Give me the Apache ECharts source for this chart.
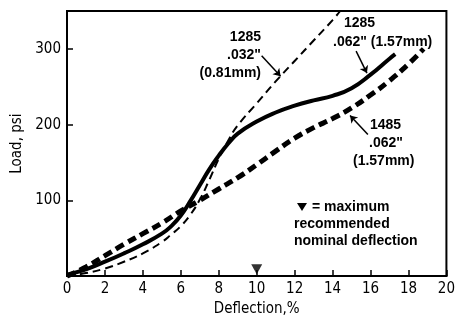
<!DOCTYPE html>
<html><head><meta charset="utf-8">
<script src="https://cdn.jsdelivr.net/npm/echarts@6/dist/echarts.min.js"></script>
<style>html,body{margin:0;padding:0;background:#fff}#c{width:458px;height:322px}</style>
</head><body><div id="c"></div>
<script>
// Deflection (%) -> Load (psi)
const solid1285_062 = [[0,2],[1,9],[2,19],[3,30],[4,42],[5,56],[5.5,66],[6,80],[6.5,99],[7,120],[7.5,141],[8,159],[8.5,175],[9,188],[10,204],[11,216],[12,225],[13,232],[14,238],[15,248],[16,266],[17,287],[17.3,293]];
const thin1285_032 = [[0,0],[1,4],[2,10],[3,19],[4,30],[5,45],[5.5,55],[6,66],[6.5,81],[7,101],[7.5,127],[8,155],[8.5,179],[9,199],[10,228],[11,257],[12,284],[13,311],[14,338],[14.4,350]];
const thick1485_062 = [[0,0],[1,12],[2,27],[3,42],[4,56],[5,70],[6,86],[7,100],[8,115],[9,130],[10,147],[11,165],[12,182],[13,196],[14,208],[15,222],[16,239],[17,258],[18,280],[18.8,300]];
const markerPoint = [[10,9]];
const xTicks = [0,2,4,6,8,10,12,14,16,18,20];
const yTicks = [100,200,300];
const arrows = [
  [[10.26,291],[11.26,264]],
  [[15.24,297],[15.81,268]],
  [[15.86,187],[14.92,212]]
];

const tickFont = '"Liberation Sans Narrow","DejaVu Sans Condensed","Arial Narrow",sans-serif';
const boldFont = '"Liberation Sans",Arial,Helvetica,sans-serif';
const chart = echarts.init(document.getElementById('c'));
function txt(x, y, s, align) {
  return {type:'text', x:x, y:y, style:{text:s, font:'bold 14px ' + boldFont, fill:'#000',
    textAlign: align || 'left', textVerticalAlign:'top', verticalAlign:'top'}};
}
chart.setOption({
  animation:false,
  grid:{left:67,right:9,top:11,bottom:39,show:true,borderColor:'#000',borderWidth:2,backgroundColor:'transparent'},
  xAxis:{type:'value',min:0,max:20,interval:2,
    name:'Deflection,%',nameLocation:'middle',nameGap:23,
    nameTextStyle:{fontFamily:tickFont,fontSize:15,color:'#000'},
    axisLine:{lineStyle:{color:'#000',width:2}},
    axisTick:{inside:true,length:6,lineStyle:{color:'#000',width:1.5}},
    axisLabel:{fontFamily:tickFont,fontSize:15,color:'#000',margin:6,
      formatter:v=>xTicks.includes(v)?String(v):''},
    splitLine:{show:false}},
  yAxis:{type:'value',min:0,max:350,interval:100,
    name:'Load, psi',nameLocation:'middle',nameGap:34,
    nameTextStyle:{fontFamily:tickFont,fontSize:15,color:'#000'},
    axisLine:{lineStyle:{color:'#000',width:2}},
    axisTick:{inside:true,length:6,lineStyle:{color:'#000',width:1.5}},
    axisLabel:{fontFamily:tickFont,fontSize:15,color:'#000',margin:6,
      formatter:v=>yTicks.includes(v)?String(v):''},
    splitLine:{show:false}},
  series:[
    {type:'line',data:thick1485_062,smooth:0.5,showSymbol:false,
      lineStyle:{color:'#000',width:5,type:[9,5]}},
    {type:'line',data:thin1285_032,smooth:0.5,showSymbol:false,
      lineStyle:{color:'#000',width:2,type:[8,5]}},
    {type:'line',data:solid1285_062,smooth:0.5,showSymbol:false,
      lineStyle:{color:'#000',width:4}},
    {type:'scatter',data:markerPoint,symbol:'triangle',symbolRotate:180,symbolSize:[11,10],
      itemStyle:{color:'#000'}},
    {type:'lines',coordinateSystem:'cartesian2d',polyline:false,
      symbol:['none','arrow'],symbolSize:7,
      lineStyle:{color:'#000',width:1.5,opacity:1},
      data:arrows.map(a=>({coords:a}))}
  ],
  graphic:[
    txt(261,30,'1285','right'),
    txt(261,48,'.032"','right'),
    txt(261,66,'(0.81mm)','right'),
    txt(344,16,'1285'),
    txt(333,35,'.062" (1.57mm)'),
    txt(370,118,'1485'),
    txt(369,136,'.062"'),
    txt(353,154,'(1.57mm)'),
    {type:'polygon',shape:{points:[[297,203],[307,203],[302,211]]},style:{fill:'#000'}},
    txt(312,200,'= maximum'),
    txt(294,217,'recommended'),
    txt(294,234,'nominal deflection')
  ]
});
</script></body></html>
